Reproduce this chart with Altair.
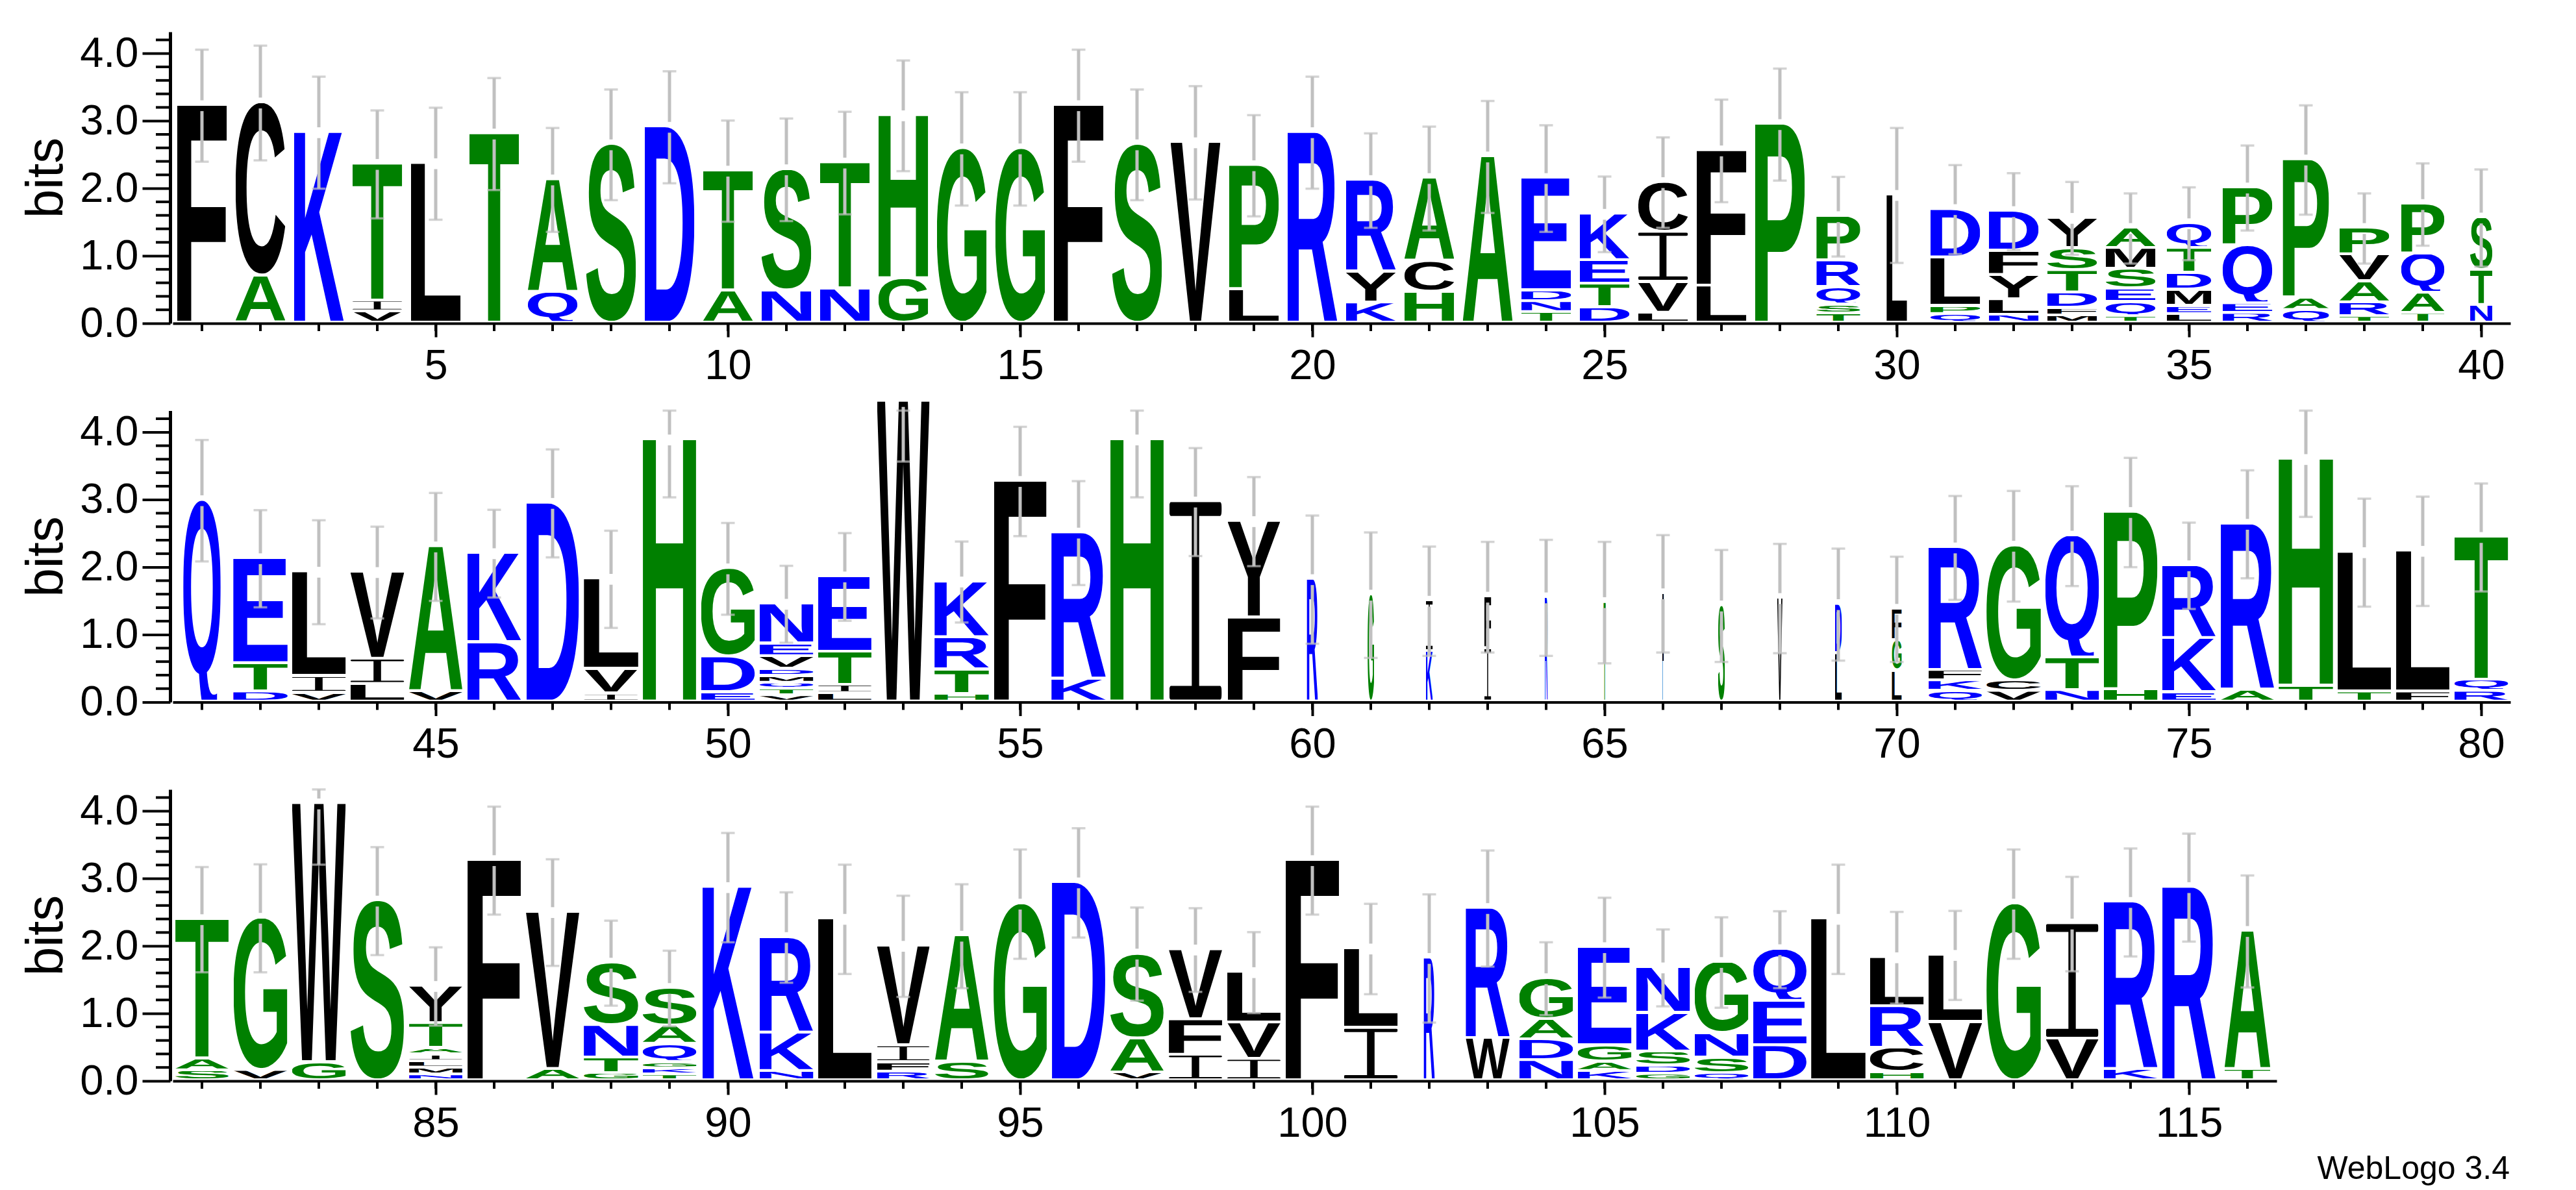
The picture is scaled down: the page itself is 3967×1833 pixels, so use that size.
import urllib.parse

import altair as alt
import pandas as pd

# letters are bottom to top in each stack, heights in bits
row1_letters = ["F", "AC", "K", "VIT", "L", "T", "QA", "S", "D", "AT", "NS", "NT", "GH", "G", "G", "F", "S", "V", "LP", "R",
                "KYR", "HCA", "A", "TNDE", "DTEK", "LVIC", "LF", "P", "TSQRP", "L", "QPLD", "NLYFD", "MFDTSY", "TQESMA",
                "LEMDTQ", "REQP", "QAP", "TRAVP", "TAQP", "NTS"]
row1_heights = [[3.19], [.66, 2.53], [2.79], [.13, .12, 1.99], [2.33], [2.77], [.42, 1.63], [2.61], [2.87], [.44, 1.74],
                [.44, 1.76], [.47, 1.83], [.62, 2.38], [2.55], [2.55], [3.19], [2.61], [2.64], [.46, 1.80], [2.79],
                [.26, .42, 1.32], [.42, .42, 1.19], [2.43], [.12, .12, .12, 1.63], [.19, .31, .31, .65],
                [.11, .42, .70, .70], [.51, 1.97], [2.91], [.10, .09, .22, .355, .62], [1.86], [.09, .08, .68, .68],
                [.08, .19, .32, .32, .55], [.07, .07, .19, .29, .29, .41], [.06, .17, .16, .25, .27, .26],
                [.09, .08, .20, .21, .33, .33], [.105, .105, .82, .82], [.15, .145, 2.01], [.06, .165, .27, .36, .355],
                [.105, .26, .54, .70], [.225, .48, .74]]
row1_widths = [.85] * 28 + [.75, .35, .85, .85, .85, .85, .76, .85, .79, .85, .74, .38]
row1_err = [.83, .85, .83, .80, .83, .83, .77, .82, .83, .75, .76, .76, .82, .84, .84, .83, .82, .84, .75, .83,
            .70, .77, .83, .79, .56, .67, .76, .83, .59, 1.0, .66, .57, .54, .52, .54, .63, .81, .52, .61, .72]

row2_letters = ["Q", "DTE", "VIL", "LIV", "VA", "RK", "D", "IVL", "H", "EDG", "VTQMDVEN", "LITE", "W", "HTRK", "F", "KR",
                "H", "I", "FY", "R", "G", "KI", "IF", "R", "T", "F", "S", "V", "LD", "LGF", "QKFR", "VCG", "NTQ", "HP",
                "EKR", "AR", "TH", "TL", "FL", "RQT"]
row2_heights = [[2.95], [.11, .38, 1.52], [.09, .21, 1.51], [.22, .335, 1.25], [.115, 2.11], [.84, 1.285], [2.91],
                [.08, .325, 1.30], [3.85], [.10, .49, 1.27], [.055, .055, .05, .06, .065, .15, .15, .55],
                [.085, .085, .45, 1.08], [4.42], [.075, .32, .44, .79], [3.235], [.30, 2.13], [3.85], [2.93],
                [1.21, 1.39], [1.78], [1.55], [.71, .71], [.75, .73], [1.51], [1.44], [1.57], [1.39], [1.50],
                [.68, .69], [.42, .41, .43], [.12, .115, .115, 1.78], [.12, .115, 1.96], [.13, .445, 1.77],
                [.145, 2.59], [.10, .765, 1.04], [.14, 2.42], [.20, 3.32], [.11, 2.03], [.11, 2.05], [.12, .125, 2.08]]
row2_widths = [.64, .93, .92, .92, .91, .92, .90, .93, .91, .92, .92, .91, .90, .93, .90, .93, .91, .90, .90, .19,
               .11, .12, .12, .055, .04, .03, .12, .09, .12, .17, .91, .93, .92, .92, .92, .91, .93, .91, .91, .92]
row2_err = [.90, .72, .77, .68, .80, .65, .80, .72, .85, .68, .57, .65, .89, .60, .81, .77, .85, .80, .66, .95,
            .93, .81, .82, .86, .90, .87, .83, .81, .83, .78, .77, .82, .74, .81, .64, .80, .85, .80, .81, .80]

row3_letters = ["SAT", "VG", "GW", "S", "NMLIATY", "F", "AV", "GTNS", "TKGQAS", "K", "NKR", "L", "RFIV", "SA", "G", "D",
                "VAS", "IFV", "IVL", "F", "IL", "R", "WR", "NDAG", "KAGE", "GDSKN", "QSNG", "DEQ", "L", "HCRL", "VL",
                "G", "VI", "KR", "R", "TA"]
row3_heights = [[.11, .135, 2.03], [.115, 2.22], [.23, 3.80], [2.63], [.05, .06, .055, .06, .055, .33, .515], [3.23],
                [.13, 2.29], [.07, .19, .44, .89], [.05, .05, .055, .23, .23, .52], [2.83], [.10, .53, 1.38], [2.36],
                [.09, .10, .21, 1.44], [.24, 1.83], [2.585], [2.90], [.08, .465, 1.22], [.34, .485, 1.00],
                [.28, .50, .71], [3.23], [.74, 1.14], [1.78], [.59, 1.89], [.26, .27, .26, .57], [.10, .10, .20, 1.42],
                [.06, .08, .17, .53, .64], [.07, .19, .32, 1.02], [.48, .62, .73], [2.36], [.08, .325, .575, .69],
                [.825, .96], [2.585], [.58, 1.67], [.13, 2.44], [2.83], [.13, 2.01]]
row3_widths = [.91, .92, .92, .91, .91, .91, .91, .93, .92, .87, .92, .91, .90, .91, .91, .91, .91, .91, .91, .91,
               .92, .19, .75, .92, .92, .92, .92, .91, .93, .92, .92, .93, .90, .92, .91, .78]
row3_err = [.78, .80, .90, .80, .58, .80, .79, .63, .56, .81, .67, .81, .75, .77, .81, .81, .69, .62, .60, .80,
            .67, .95, .86, .54, .74, .57, .67, .57, .81, .68, .66, .81, .70, .80, .80, .83]

major_y = [0, 1, 2, 3, 4]
minor_y = [.2, .4, .6, .8, 1.2, 1.4, 1.6, 1.8, 2.2, 2.4, 2.6, 2.8, 3.2, 3.4, 3.6, 3.8, 4.2]

colors = {"black": "FLIVWMCY", "green": "ASTGPH", "blue": "DEKRNQ"}
color_hex = {"black": "#000000", "green": "#008000", "blue": "#0000ff"}
# ink box of each glyph in Liberation Sans Bold: xmin, xmax, ymin, ymax
# Q is cut short, its tail is much longer than the logo's
glyph_box = {"A": (25, 696, 0, 688), "C": (41, 695, -10, 698), "D": (67, 680, 0, 688), "E": (67, 628, 0, 688),
             "F": (67, 574, 0, 688), "G": (41, 716, -10, 698), "H": (67, 655, 0, 688), "K": (67, 713, 0, 688),
             "L": (67, 580, 0, 688), "M": (67, 766, 0, 688), "N": (67, 655, 0, 688), "P": (67, 633, 0, 688),
             "Q": (41, 736, -110, 698), "R": (67, 702, 0, 688), "S": (29, 628, -10, 698), "T": (11, 600, 0, 688),
             "V": (7, 660, 0, 688), "W": (1, 943, 0, 688), "Y": (17, 651, 0, 688)}

FONT = "Liberation Sans"
GREY = "#c0c0c0"
PX_PER_POS = 90
PLOT_H = 449
Y_MAX = 4.32
BASE = .035
GAP = .04
BAR_GAP = .08


def letter_uri(letter):
    name = [k for k, v in colors.items() if letter in v][0]
    fill = color_hex[name]
    if letter == "I":
        # the logo's I carries bars top and bottom
        body = (f"<rect x='0' y='0' width='100' height='7' rx='3' fill='{fill}'/>"
                f"<rect x='0' y='93' width='100' height='7' rx='3' fill='{fill}'/>"
                f"<rect x='43' y='3' width='14' height='94' fill='{fill}'/>")
        view = "0 0 100 100"
    else:
        x0, x1, y0, y1 = glyph_box[letter]
        body = (f"<text font-family='{FONT}' font-weight='700' font-size='1000' fill='{fill}'>{letter}</text>")
        view = f"{x0} {-y1} {x1 - x0} {y1 - y0}"
    svg = (f"<svg xmlns='http://www.w3.org/2000/svg' width='100' height='100' viewBox='{view}' "
           f"preserveAspectRatio='none'>{body}</svg>")
    return "data:image/svg+xml;charset=utf-8," + urllib.parse.quote(svg)


def panel(first, letters, heights, widths, errs, tick_values, extra=None):
    last = first + len(letters) - 1
    x_scale = alt.Scale(domain=[first - .5, last + .5], nice=False, zero=False)
    y_scale = alt.Scale(domain=[0, Y_MAX], nice=False)
    w = (last - first + 1) * PX_PER_POS

    glyphs, segs, caps = [], [], []
    for i, (ls, hs) in enumerate(zip(letters, heights)):
        p = first + i
        y = BASE
        for l, h in zip(ls, hs):
            glyphs.append({"x0": p - widths[i] / 2, "x1": p + widths[i] / 2, "y0": y, "y1": y + h,
                           "uri": letter_uri(l), "letter": l})
            y += h + GAP
        top = y - GAP
        up = min(top + errs[i], Y_MAX)
        low = top - errs[i]
        if up > top + BAR_GAP:
            segs.append({"p": p, "a": top + BAR_GAP, "b": up})
        segs.append({"p": p, "a": low, "b": top - BAR_GAP})
        caps.append({"p": p, "v": up})
        caps.append({"p": p, "v": low})

    x_axis = alt.Axis(values=tick_values, format="d", title=None, labelFont=FONT, labelFontSize=65, labelAngle=0,
                      labelPadding=13, labelColor="black", tickSize=21, tickWidth=4, tickColor="black",
                      domainWidth=4, domainColor="black", labelOverlap=False, labelFlush=False, grid=False)
    y_axis = alt.Axis(values=major_y, format=".1f", title="bits", titleFont=FONT, titleFontSize=80,
                      titleFontWeight="normal", titleColor="black", titlePadding=10, labelFont=FONT,
                      labelFontSize=65, labelColor="black", labelPadding=6, tickSize=43, tickWidth=4,
                      tickColor="black", domainWidth=5, domainColor="black", offset=4, grid=False)
    x_enc = lambda f: alt.X(f, scale=x_scale, axis=x_axis)
    y_enc = lambda f: alt.Y(f, scale=y_scale, axis=y_axis)

    letters_layer = alt.Chart(pd.DataFrame(glyphs)).mark_image(aspect=False).encode(
        x=x_enc("x0:Q"),
        x2="x1:Q",
        y=y_enc("y0:Q"),
        y2="y1:Q",
        url="uri:N",
    )
    bars = alt.Chart(pd.DataFrame(segs)).mark_rule(color=GREY, strokeWidth=5).encode(
        x=x_enc("p:Q"),
        y=y_enc("a:Q"),
        y2="b:Q",
    )
    cap_ticks = alt.Chart(pd.DataFrame(caps)).mark_tick(color=GREY, orient="horizontal", size=21, thickness=3.5).encode(
        x=x_enc("p:Q"),
        y=y_enc("v:Q"),
    )
    minor_ticks_y = alt.Chart(pd.DataFrame({"v": minor_y})).mark_rule(color="black", strokeWidth=4).encode(
        y=y_enc("v:Q"),
        x=alt.value(-4),
        x2=alt.value(-26),
    )
    positions = [first + i for i in range(len(letters))]
    minor_ticks_x = alt.Chart(pd.DataFrame({"p": positions})).mark_rule(color="black", strokeWidth=4).encode(
        x=x_enc("p:Q"),
        y=alt.value(PLOT_H),
        y2=alt.value(PLOT_H + 12),
    )
    layers = [letters_layer, minor_ticks_y, minor_ticks_x, bars, cap_ticks]
    if extra is not None:
        layers.append(extra)
    return alt.layer(*layers).properties(width=w, height=PLOT_H)


credit = alt.Chart(pd.DataFrame({"t": ["WebLogo 3.4"]})).mark_text(
    font=FONT, fontSize=50, align="right", baseline="alphabetic", color="black"
).encode(text="t:N", x=alt.value(3599), y=alt.value(PLOT_H + 151))

top = panel(1, row1_letters, row1_heights, row1_widths, row1_err, [5, 10, 15, 20, 25, 30, 35, 40])
middle = panel(41, row2_letters, row2_heights, row2_widths, row2_err, [45, 50, 55, 60, 65, 70, 75, 80])
bottom = panel(81, row3_letters, row3_heights, row3_widths, row3_err,
               [85, 90, 95, 100, 105, 110, 115], extra=credit)

chart = alt.vconcat(top, middle, bottom, spacing=134.5, bounds="flush").properties(
    padding={"left": 23, "top": 41, "right": 5, "bottom": 5},
    background="white",
).configure_view(stroke=None)

chart.save("out.html", embed_options={"renderer": "svg", "actions": False})
